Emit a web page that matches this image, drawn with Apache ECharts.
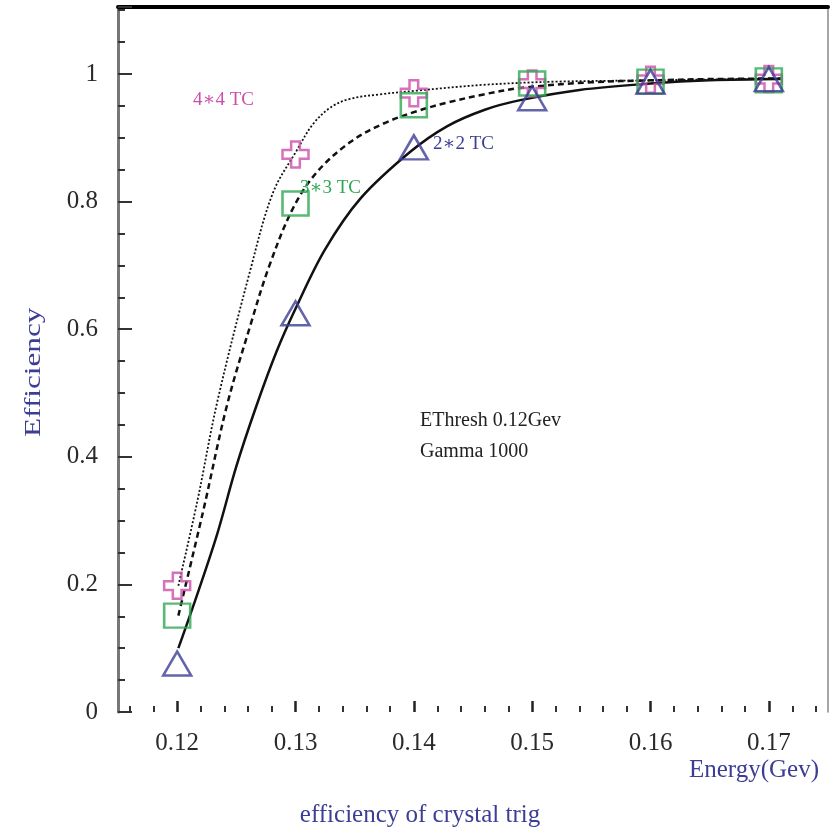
<!DOCTYPE html>
<html>
<head>
<meta charset="utf-8">
<script src="https://cdn.jsdelivr.net/npm/echarts@6/dist/echarts.min.js"></script>
<style>
  html, body { margin: 0; padding: 0; background: #fff; }
  #chart { width: 840px; height: 829px; }
</style>
</head>
<body>
<div id="chart"></div>
<script>
// energies where the trigger efficiency was measured (Gev)
var energies = [0.12, 0.13, 0.14, 0.15, 0.16, 0.17];
// measured points, one list per trigger cluster size
var eff4x4 = [0.198, 0.874, 0.970, 0.985, 0.991, 0.992];
var eff3x3 = [0.151, 0.797, 0.951, 0.985, 0.988, 0.990];
var eff2x2 = [0.076, 0.625, 0.885, 0.962, 0.988, 0.992];

// fitted curves as [energy, efficiency]
var fit4x4 = [[0.1201, 0.198], [0.1217, 0.33], [0.1234, 0.487], [0.1262, 0.694], [0.1281, 0.814],
  [0.1301, 0.88], [0.1315, 0.922], [0.1330, 0.948], [0.1346, 0.961], [0.1371, 0.968],
  [0.1403, 0.974], [0.1459, 0.983], [0.152, 0.988], [0.16, 0.990], [0.171, 0.993]];
var fit3x3 = [[0.1201, 0.151], [0.1222, 0.315], [0.1242, 0.480], [0.1262, 0.607], [0.1278, 0.70],
  [0.1298, 0.790], [0.1318, 0.846], [0.1346, 0.893], [0.1374, 0.922], [0.1403, 0.942],
  [0.1428, 0.955], [0.1459, 0.968], [0.149, 0.978], [0.155, 0.987], [0.16, 0.990],
  [0.165, 0.992], [0.171, 0.993]];
var fit2x2 = [[0.1201, 0.10], [0.1218, 0.19], [0.1234, 0.28], [0.1250, 0.385], [0.1267, 0.480],
  [0.1284, 0.565], [0.130, 0.632], [0.1325, 0.725], [0.1355, 0.805], [0.1397, 0.878],
  [0.1428, 0.918], [0.146, 0.944], [0.149, 0.959], [0.154, 0.975], [0.160, 0.985],
  [0.165, 0.990], [0.171, 0.992]];

var xTickLabels = [0.12, 0.13, 0.14, 0.15, 0.16, 0.17];
var xMinorTicks = [0.116, 0.118, 0.122, 0.124, 0.126, 0.128, 0.132, 0.134, 0.136, 0.138,
  0.142, 0.144, 0.146, 0.148, 0.152, 0.154, 0.156, 0.158, 0.162, 0.164, 0.166, 0.168,
  0.172, 0.174];

var serif = "'Liberation Serif', 'DejaVu Serif', serif";
var blue = '#3c3d94';
var pink = '#cc4fa8';
var green = '#2fa852';
var crossPath = 'path://M8,0H16V8H24V16H16V24H8V16H0V8H8Z';

function pts(vals) {
  return energies.map(function (e, i) { return [e, vals[i]]; });
}

function curve(data, type, width) {
  return {
    type: 'line', data: data, smooth: 0.35, showSymbol: false, silent: true,
    lineStyle: { color: '#111', width: width, type: type }, z: 2
  };
}

function marks(data, symbol, size, color) {
  return {
    type: 'scatter', data: data, symbol: symbol, symbolSize: size, z: 3,
    itemStyle: { color: 'rgba(0,0,0,0)', borderColor: color, borderWidth: 2.5 }
  };
}

var chart = echarts.init(document.getElementById('chart'));
chart.setOption({
  animation: false,
  backgroundColor: '#fff',
  title: {
    text: 'efficiency of crystal trig', left: 'center', top: 798,
    textStyle: { fontFamily: serif, fontSize: 25, fontWeight: 'normal', color: blue }
  },
  grid: { left: 118, right: 12, top: 7, bottom: 117 },
  xAxis: [
    {
      type: 'value', min: 0.115, max: 0.175, position: 'bottom', offset: 0,
      axisLine: { show: false },
      axisTick: { show: true, inside: true, length: 11, customValues: xTickLabels,
        lineStyle: { color: '#222', width: 2.5 } },
      axisLabel: { customValues: xTickLabels, fontFamily: serif, fontSize: 25, color: '#2a2a2a',
        margin: 19, formatter: function (v) { return v.toFixed(2); } },
      splitLine: { show: false }
    },
    {
      type: 'value', min: 0.115, max: 0.175, position: 'bottom', offset: 0,
      axisLine: { show: false },
      axisTick: { show: true, inside: true, length: 6, customValues: xMinorTicks,
        lineStyle: { color: '#333', width: 2 } },
      axisLabel: { show: false },
      splitLine: { show: false }
    },
    {
      type: 'value', min: 0.115, max: 0.175, position: 'top',
      axisLine: { show: true, lineStyle: { color: '#000', width: 4 } },
      axisTick: { show: false }, axisLabel: { show: false }, splitLine: { show: false }
    }
  ],
  yAxis: [
    {
      type: 'value', min: 0, max: 1.105, interval: 0.2,
      axisLine: { show: true, lineStyle: { color: '#777', width: 3 } },
      axisTick: { show: true, inside: true, length: 14, lineStyle: { color: '#333', width: 2 } },
      minorTick: { show: true, splitNumber: 4, length: 7, lineStyle: { color: '#333', width: 2 } },
      axisLabel: { showMaxLabel: false, fontFamily: serif, fontSize: 25, color: '#2a2a2a', margin: 20 },
      splitLine: { show: false }
    },
    {
      type: 'value', min: 0, max: 1.105, position: 'right',
      axisLine: { show: true, lineStyle: { color: '#888', width: 1.5 } },
      axisTick: { show: false }, axisLabel: { show: false }, splitLine: { show: false }
    }
  ],
  graphic: [
    { type: 'text', x: 22, y: 437, rotation: Math.PI / 2, scaleX: 1.3,
      style: { text: 'Efficiency', font: '24px ' + serif, fill: blue } },
    { type: 'text', right: 21, top: 758,
      style: { text: 'Energy(Gev)', font: '25px ' + serif, fill: blue } },
    { type: 'text', left: 193, top: 91, z: 10,
      style: { text: '4\u22174 TC', font: '19px ' + serif, fill: pink } },
    { type: 'text', left: 300, top: 179, z: 10,
      style: { text: '3\u22173 TC', font: '19px ' + serif, fill: green } },
    { type: 'text', left: 433, top: 135, z: 10,
      style: { text: '2\u22172 TC', font: '19px ' + serif, fill: blue } },
    { type: 'text', left: 420, top: 411, z: 10,
      style: { text: 'EThresh 0.12Gev', font: '20px ' + serif, fill: '#222' } },
    { type: 'text', left: 420, top: 442, z: 10,
      style: { text: 'Gamma 1000', font: '20px ' + serif, fill: '#222' } }
  ],
  series: [
    curve(fit4x4, [2, 2], 1.8),
    curve(fit3x3, [6, 4], 2.5),
    curve(fit2x2, 'solid', 2.5),
    marks(pts(eff4x4), crossPath, 26, pink),
    marks(pts(eff3x3), 'rect', [26, 24], green),
    marks(pts(eff2x2), 'triangle', [28, 24], blue)
  ]
});
</script>
</body>
</html>
